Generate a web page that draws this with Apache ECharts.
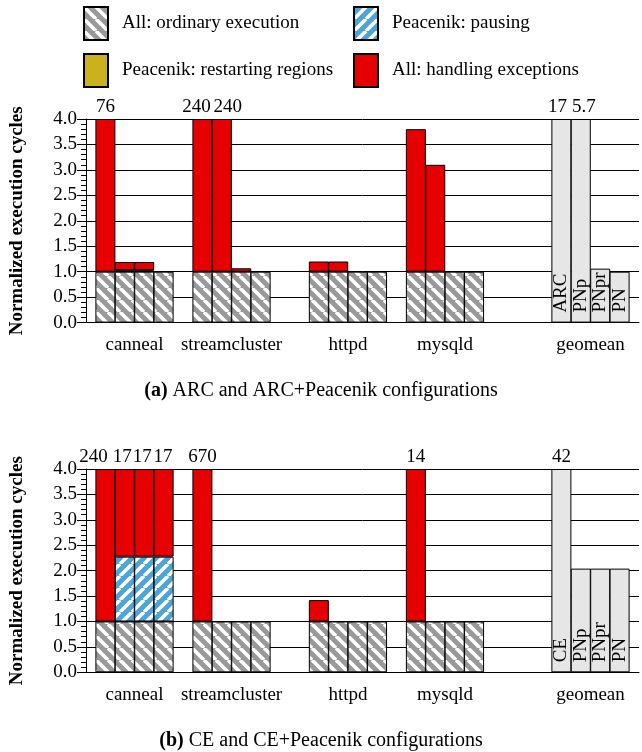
<!DOCTYPE html>
<html><head><meta charset="utf-8">
<script src="https://cdn.jsdelivr.net/npm/echarts@6/dist/echarts.min.js"></script>
<style>html,body{margin:0;padding:0;background:#fff}#c{width:642px;height:752px}</style>
</head><body><div id="c"></div>
<script>
// ---------------- data ----------------
const benchmarks = ['canneal', 'streamcluster', 'httpd', 'mysqld'];
const geoName = 'geomean';
const configsA = ['ARC', 'PNp', 'PNpr', 'PN'];
const configsB = ['CE', 'PNp', 'PNpr', 'PN'];
const seriesNames = ['All: ordinary execution', 'Peacenik: pausing', 'Peacenik: restarting regions', 'All: handling exceptions'];

// (a) ARC and ARC+Peacenik — 4 bars per benchmark (ARC, PNp, PNpr, PN)
const ordinaryA = [1, 1, 1, 1,  1, 1, 1, 1,  1, 1, 1, 1,  1, 1, 1, 1];
const pausingA  = [0, 0.03, 0.03, 0,  0, 0, 0, 0,  0, 0, 0, 0,  0, 0, 0, 0];
const restartA  = [0, 0, 0, 0,  0, 0, 0, 0,  0, 0, 0, 0,  0, 0, 0, 0];
const totalA    = [76, 1.19, 1.19, 1.0,  240, 240, 1.067, 1.0,  1.2, 1.2, 1.0, 1.0,  3.8, 3.1, 1.0, 1.0];
const geomeanA  = [17, 5.7, 1.06, 1.0];

// (b) CE and CE+Peacenik — 4 bars per benchmark (CE, PNp, PNpr, PN)
const ordinaryB = [1, 1, 1, 1,  1, 1, 1, 1,  1, 1, 1, 1,  1, 1, 1, 1];
const pausingB  = [0, 1.275, 1.275, 1.275,  0, 0, 0, 0,  0, 0, 0, 0,  0, 0, 0, 0];
const restartB  = [0, 0, 0, 0,  0, 0, 0, 0,  0, 0, 0, 0,  0, 0, 0, 0];
const totalB    = [240, 17, 17, 17,  670, 1.0, 1.0, 1.0,  1.42, 1.0, 1.0, 1.0,  14, 1.0, 1.0, 1.0];
const geomeanB  = [42, 2.04, 2.04, 2.04];

const YMAX = 4;

// ---------------- layout / style ----------------
const FONT = 'Liberation Serif';
const NSLOT = 58;                    // half-bar slots along the x axis
const groupStart = [2, 12, 24, 34];  // slot of the first bar of each benchmark
const geoStart = 49;
const STEP = 2;                      // slots between adjacent bars
const slots = Array.from({ length: NSLOT }, (_, i) => 's' + i);

function hatch(bg, fg, dir) {
  const s = 12, c = document.createElement('canvas');
  c.width = s; c.height = s;
  const g = c.getContext('2d');
  g.fillStyle = bg; g.fillRect(0, 0, s, s);
  g.strokeStyle = fg; g.lineWidth = 3.6;
  g.beginPath();
  for (let k = -1; k <= 1; k++) {
    if (dir === 'back') { g.moveTo(k * s, 0); g.lineTo(k * s + s, s); }
    else { g.moveTo(k * s, s); g.lineTo(k * s + s, 0); }
  }
  g.stroke();
  return { image: c, repeat: 'repeat' };
}
const colors = [hatch('#999999', '#ffffff', 'back'), hatch('#4ca4d9', '#ffffff', 'fwd'), '#c9b21e', '#e60000'];
const geoColor = '#e6e6e6';
const border = { borderColor: '#000', borderWidth: 1 };

const shiftA = { 4: -6, 5: 6, 16: -4, 17: 3 };
const shiftB = { 0: -12, 1: -2.5, 2: -2, 3: -0.7 };

function build(gi, configs, ordinary, pausing, restart, total, geo, shifts) {
  const pos = [];
  benchmarks.forEach((b, bi) => configs.forEach((c, ci) => pos.push(groupStart[bi] + ci * STEP)));
  configs.forEach((c, ci) => pos.push(geoStart + ci * STEP));
  const nb = benchmarks.length * configs.length;
  const nz = v => (v > 1e-6 ? v : null);
  const toSlots = arr => { const o = new Array(NSLOT).fill(null); arr.forEach((v, i) => { o[pos[i]] = v; }); return o; };
  const red = total.map((t, i) => nz(Math.min(t, YMAX) - ordinary[i] - pausing[i] - restart[i]));
  const comps = [ordinary.map(nz), pausing.map(nz), restart.map(nz), red];
  const stack = 's' + gi;
  const out = comps.map((arr, k) => ({
    type: 'bar', name: seriesNames[k], xAxisIndex: gi, yAxisIndex: gi, stack,
    barWidth: 20, barGap: '-100%',
    itemStyle: Object.assign({ color: colors[k] }, border),
    data: toSlots(arr)
  }));
  const geoVals = new Array(nb).fill(null).concat(geo.map(v => Math.min(v, YMAX)));
  out.push({
    type: 'bar', name: geoName, xAxisIndex: gi, yAxisIndex: gi, stack,
    barWidth: 20, barGap: '-100%',
    itemStyle: Object.assign({ color: geoColor }, border),
    label: {
      show: true, position: 'insideBottom', rotate: 90, align: 'left', verticalAlign: 'middle',
      distance: 10, fontSize: 19, fontFamily: FONT, color: '#000',
      formatter: p => configs[(p.dataIndex - geoStart) / STEP] || ''
    },
    data: toSlots(geoVals)
  });
  const allTotals = total.concat(geo);
  const lab = [];
  allTotals.forEach((t, i) => {
    if (t > YMAX) lab.push({
      value: [pos[i], YMAX],
      label: { formatter: String(t), offset: [shifts[i] || 0, 0] }
    });
  });
  out.push({
    type: 'scatter', xAxisIndex: gi, yAxisIndex: gi, symbolSize: 0, clip: false, silent: true,
    itemStyle: { opacity: 1 },
    label: { show: true, position: 'top', distance: 2, fontSize: 19, fontFamily: FONT, color: '#000', opacity: 1 },
    data: lab
  });
  return out;
}

const groupNames = benchmarks.concat([geoName]);
const centerSlots = groupStart.concat([geoStart]).map(s => s + 1.5 * STEP);
function groupLabel(v, idx) {
  const k = centerSlots.indexOf(idx);
  return k >= 0 ? groupNames[k] : '';
}

function xAxis(gi) {
  return {
    type: 'category', gridIndex: gi, data: slots, boundaryGap: false,
    splitLine: { show: false }, axisTick: { show: false },
    axisLine: { show: true, onZero: false, lineStyle: { color: '#000', width: 1 } },
    axisLabel: { interval: 0, formatter: groupLabel, fontSize: 19, fontFamily: FONT, color: '#000', margin: 13 }
  };
}
function yAxis(gi) {
  return {
    type: 'value', gridIndex: gi, min: 0, max: YMAX, interval: 0.5,
    axisLine: { show: true, lineStyle: { color: '#000', width: 1 } },
    axisTick: { show: true, length: 9, lineStyle: { color: '#000', width: 1 } },
    minorTick: { show: true, splitNumber: 5, length: 5, lineStyle: { color: '#000', width: 1 } },
    splitLine: { show: true, lineStyle: { color: '#000', width: 1 } },
    axisLabel: { formatter: v => v.toFixed(1), fontSize: 19, fontFamily: FONT, color: '#000', margin: 9 },
    name: 'Normalized execution cycles', nameLocation: 'middle', nameGap: 59,
    nameTextStyle: { fontWeight: 'bold', fontSize: 19, fontFamily: FONT, color: '#000' }
  };
}

const legendText = { fontSize: 19, fontFamily: FONT, color: '#000', padding: [0, 0, 0, 9] };
const legendBase = { top: 1, orient: 'vertical', icon: 'rect', itemWidth: 24, itemHeight: 33, itemGap: 12,
  selectedMode: false, textStyle: legendText };
const option = {
  animation: false,
  backgroundColor: '#fff',
  legend: [
    Object.assign({ left: 78, data: [seriesNames[0], seriesNames[2]] }, legendBase),
    Object.assign({ left: 348, data: [seriesNames[1], seriesNames[3]] }, legendBase)
  ],
  title: [
    { text: '{b|(a)} ARC and ARC+Peacenik configurations', left: 'center', top: 376,
      textStyle: { fontSize: 20, fontFamily: FONT, fontWeight: 'normal', color: '#000',
        rich: { b: { fontWeight: 'bold', fontSize: 20, fontFamily: FONT, color: '#000' } } } },
    { text: '{b|(b)} CE and CE+Peacenik configurations', left: 'center', top: 726,
      textStyle: { fontSize: 20, fontFamily: FONT, fontWeight: 'normal', color: '#000',
        rich: { b: { fontWeight: 'bold', fontSize: 20, fontFamily: FONT, color: '#000' } } } }
  ],
  grid: [
    { left: 76, right: -4, top: 119, height: 203.6 },
    { left: 76, right: -4, top: 469, height: 203.3 }
  ],
  xAxis: [xAxis(0), xAxis(1)],
  yAxis: [yAxis(0), yAxis(1)],
  series: build(0, configsA, ordinaryA, pausingA, restartA, totalA, geomeanA, shiftA)
    .concat(build(1, configsB, ordinaryB, pausingB, restartB, totalB, geomeanB, shiftB))
};
echarts.init(document.getElementById('c'), null, { renderer: 'canvas' }).setOption(option);
</script></body></html>
